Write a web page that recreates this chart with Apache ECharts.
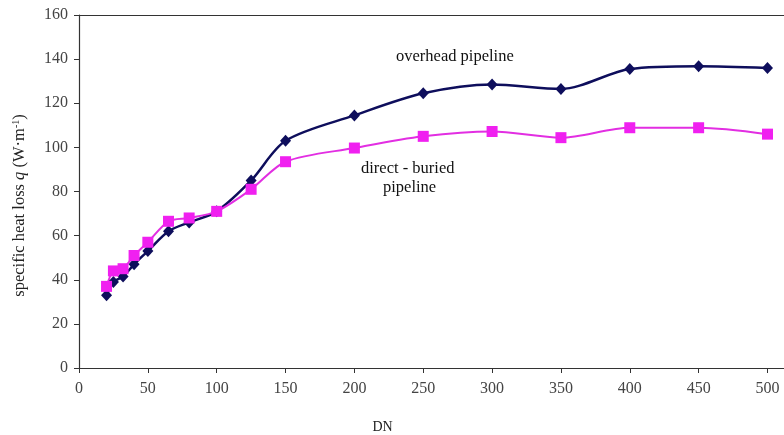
<!DOCTYPE html>
<html>
<head>
<meta charset="utf-8">
<script src="https://cdn.jsdelivr.net/npm/echarts@6/dist/echarts.min.js"></script>
<style>
  html, body { margin: 0; padding: 0; background: #fff; }
  #main { width: 784px; height: 435px; }
</style>
</head>
<body>
<div id="main"></div>
<script>
// pipe diameters (DN)
var dn = [20, 25, 32, 40, 50, 65, 80, 100, 125, 150, 200, 250, 300, 350, 400, 450, 500];
// specific heat loss, W/m
var overhead = [33, 39, 41.5, 47, 53, 62, 66, 71, 85, 103, 114.5, 124.5, 128.5, 126.5, 135.5, 136.8, 136];
var buried = [37, 44, 45, 51, 57, 66.5, 68, 71, 81, 93.5, 99.7, 105, 107.2, 104.4, 108.9, 108.9, 106];
var xTicks = [0, 50, 100, 150, 200, 250, 300, 350, 400, 450, 500];

var pairs = (xs, ys) => xs.map((x, i) => [x, ys[i]]);

var chart = echarts.init(document.getElementById('main'));
var font = '"Liberation Serif", "DejaVu Serif", serif';
var axisColor = '#333';

option = {
    animation: false,
    backgroundColor: '#fff',
    textStyle: { fontFamily: font },
    grid: { left: 79, top: 15, right: 0, bottom: 67, containLabel: false, outerBoundsMode: 'none' },
    xAxis: [
        {
            type: 'value',
            min: 0,
            max: 512,
            interval: 50,
            name: 'DN',
            nameLocation: 'middle',
            nameGap: 52,
            nameTextStyle: { fontFamily: font, fontSize: 14, color: '#222', padding: [0, 98, 0, 0] },
            axisLine: { lineStyle: { color: axisColor, width: 1.2 } },
            axisTick: { show: true, length: 5, lineStyle: { color: axisColor } },
            axisLabel: {
                fontFamily: font, fontSize: 16, color: '#444', margin: 13,
                formatter: v => xTicks.indexOf(v) >= 0 ? String(v) : ''
            },
            splitLine: { show: false }
        },
        {
            type: 'value',
            position: 'top',
            min: 0,
            max: 512,
            axisLine: { show: true, lineStyle: { color: axisColor, width: 1.2 } },
            axisTick: { show: false },
            axisLabel: { show: false },
            splitLine: { show: false }
        }
    ],
    yAxis: {
        type: 'value',
        min: 0,
        max: 160,
        interval: 20,
        name: '{n|specific heat loss }{i|q}{n| (W·m}{s|-1}{n|)}',
        nameLocation: 'middle',
        nameRotate: 90,
        nameGap: 51,
        nameTextStyle: {
            fontFamily: font, color: '#222', padding: [0, 0, 0, -28],
            rich: {
                n: { fontFamily: font, fontSize: 16.5, color: '#222' },
                i: { fontFamily: font, fontSize: 16.5, color: '#222', fontStyle: 'italic' },
                s: { fontFamily: font, fontSize: 10, color: '#222', verticalAlign: 'top', padding: [0, 0, 7, 0] }
            }
        },
        axisLine: { show: true, lineStyle: { color: axisColor, width: 1.2 } },
        axisTick: { show: true, length: 5, lineStyle: { color: axisColor } },
        axisLabel: { fontFamily: font, fontSize: 16, color: '#444', margin: 11 },
        splitLine: { show: false }
    },
    series: [
        {
            name: 'overhead pipeline',
            type: 'line',
            smooth: 0.3,
            data: pairs(dn, overhead),
            symbol: 'diamond',
            symbolSize: [11, 12],
            lineStyle: { color: '#0e0e5c', width: 2.5 },
            itemStyle: { color: '#0e0e5c' }
        },
        {
            name: 'direct - buried pipeline',
            type: 'line',
            smooth: 0.3,
            data: pairs(dn, buried),
            symbol: 'rect',
            symbolSize: 11,
            lineStyle: { color: '#e22ee2', width: 2 },
            itemStyle: { color: '#f020f0' }
        }
    ],
    graphic: [
        {
            type: 'text', left: 396, top: 48,
            style: { text: 'overhead pipeline', fontFamily: font, fontSize: 16.5, fill: '#111' }
        },
        {
            type: 'text', left: 361, top: 160,
            style: { text: 'direct - buried', fontFamily: font, fontSize: 16.5, fill: '#111' }
        },
        {
            type: 'text', left: 383, top: 179,
            style: { text: 'pipeline', fontFamily: font, fontSize: 16.5, fill: '#111' }
        }
    ]
};
chart.setOption(option);
</script>
</body>
</html>
